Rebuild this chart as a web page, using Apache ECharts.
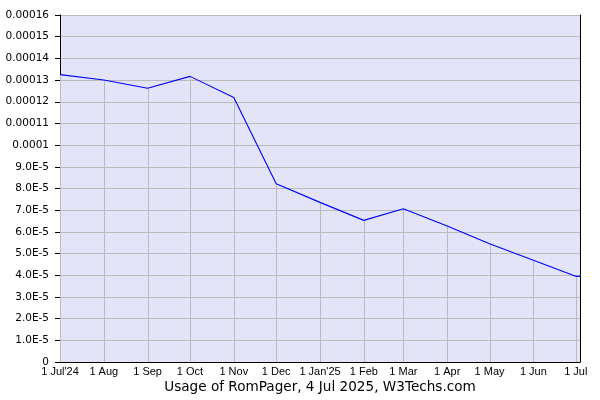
<!DOCTYPE html>
<html>
<head>
<meta charset="utf-8">
<script src="https://cdn.jsdelivr.net/npm/echarts@6/dist/echarts.min.js"></script>
<style>html,body{margin:0;padding:0;background:#fff}#c{width:600px;height:400px}</style>
</head>
<body>
<div id="c"></div>
<script>
const dates = ['2024-07-01','2024-08-01','2024-09-01','2024-10-01','2024-11-01','2024-12-01','2025-01-01','2025-02-01','2025-03-01','2025-04-01','2025-05-01','2025-06-01','2025-07-01','2025-07-04'];
const usage = [1.325e-4,1.30e-4,1.262e-4,1.317e-4,1.22e-4,8.22e-5,7.36e-5,6.53e-5,7.07e-5,6.27e-5,5.45e-5,4.69e-5,3.95e-5,3.95e-5];
const tickDates = ['2024-07-01','2024-08-01','2024-09-01','2024-10-01','2024-11-01','2024-12-01','2025-01-01','2025-02-01','2025-03-01','2025-04-01','2025-05-01','2025-06-01','2025-07-01'];
const tickLabels = ["1 Jul'24",'1 Aug','1 Sep','1 Oct','1 Nov','1 Dec',"1 Jan'25",'1 Feb','1 Mar','1 Apr','1 May','1 Jun','1 Jul'];
const titleText = 'Usage of RomPager, 4 Jul 2025, W3Techs.com';

const DAY = 86400000;
const toDay = s => { const p = s.split('-').map(Number); return Math.round(Date.UTC(p[0], p[1]-1, p[2]) / DAY); };
const tickDays = tickDates.map(toDay);
const lineData = dates.map((d,i) => [toDay(d), usage[i]]);
const dropData = tickDates.map(d => { const i = dates.indexOf(d); return [toDay(d), usage[i]]; });

function yFmt(v){
  if (v === 0) return '0';
  const n = Math.round(v*1e5);
  if (n >= 10) return String(Number((n*1e-5).toPrecision(2)));
  return n.toFixed(1) + 'E-5';
}

const chart = echarts.init(document.getElementById('c'), null, {renderer:'canvas'});
chart.setOption({
  animation: false,
  backgroundColor: '#ffffff',
  grid: {left:60, right:20, top:15, bottom:38, show:true, backgroundColor:'#e4e4f8', borderWidth:0},
  xAxis: {
    type:'value', min: toDay('2024-07-01'), max: toDay('2025-07-04'),
    axisLine:{show:true, onZero:false, lineStyle:{color:'#000', width:1}},
    axisTick:{show:false},
    splitLine:{show:false},
    axisLabel:{
      customValues: tickDays, margin:4, showMinLabel:true, showMaxLabel:true,
      fontFamily:"'Liberation Sans Narrow','Arial Narrow','Liberation Sans',sans-serif",
      fontSize:11, color:'#000',
      formatter: v => { const i = tickDays.indexOf(v); return i >= 0 ? tickLabels[i] : ''; }
    }
  },
  yAxis: [{
    type:'value', min:0, max:0.00016, interval:0.00001,
    axisLine:{show:true, lineStyle:{color:'#000', width:1}},
    axisTick:{show:true, length:5, lineStyle:{color:'#000'}},
    splitLine:{show:true, lineStyle:{color:'#bbbbbb', width:1}},
    axisLabel:{margin:11, fontFamily:"'DejaVu Sans',Verdana,sans-serif", fontSize:10.5, color:'#000', formatter: yFmt}
  },{
    type:'value', min:0, max:0.00016, interval:0.00001, position:'right',
    axisLine:{show:true, lineStyle:{color:'#000', width:1}},
    axisTick:{show:false}, axisLabel:{show:false}, splitLine:{show:false}
  }],
  series: [{
    type:'custom', data: dropData, z:1, silent:true,
    renderItem: (params, api) => {
      const top = api.coord([api.value(0), api.value(1)]);
      const bot = api.coord([api.value(0), 0]);
      const x = Math.round(top[0]) + 0.5;
      return {type:'line', shape:{x1:x, y1:top[1], x2:x, y2:bot[1]}, style:{stroke:'#bbbbbb', lineWidth:1}};
    }
  },{
    type:'line', data: lineData, showSymbol:false, symbol:'none', z:3,
    lineStyle:{color:'#0000ff', width:1.1}
  }],
  graphic: [{
    type:'text', x:320, y:387.5,
    style:{text:titleText, x:0, y:0, textAlign:'center', textVerticalAlign:'middle', font:"13.6px 'DejaVu Sans',Verdana,sans-serif", fill:'#000'}
  }]
});
</script>
</body>
</html>
